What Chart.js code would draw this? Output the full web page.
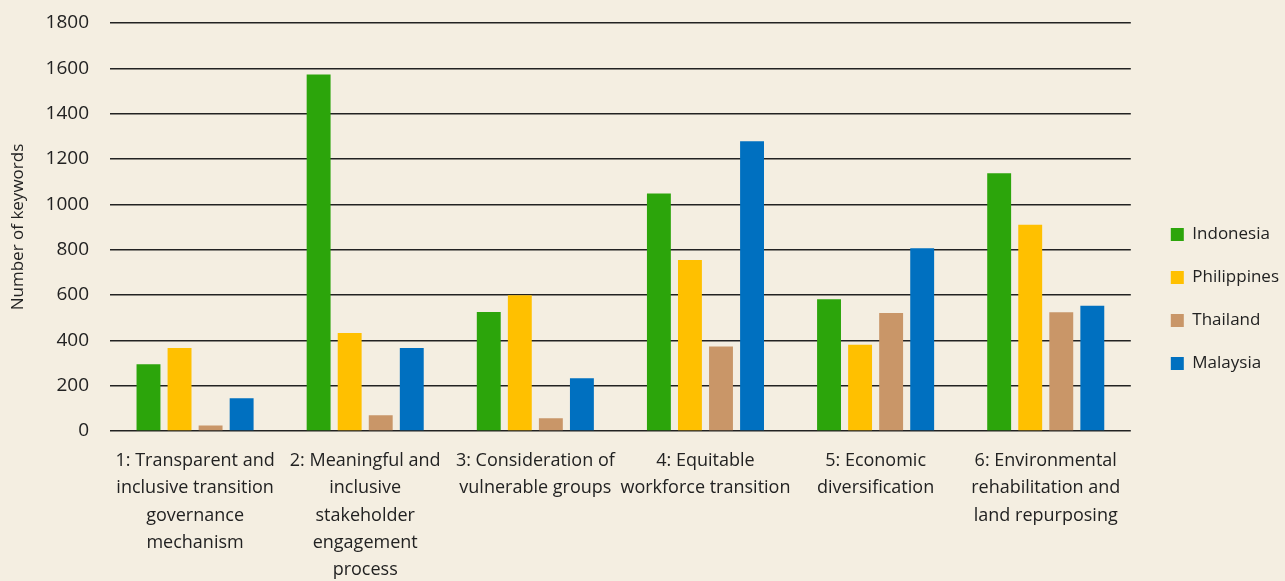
<!DOCTYPE html>
<html>
<head>
<meta charset="utf-8">
<script src="https://cdn.jsdelivr.net/npm/chart.js@4.4.0/dist/chart.umd.min.js"></script>
<style>
  html, body { margin: 0; padding: 0; }
  body { background: #f4eee1; }
  #wrap { position: relative; width: 1285px; height: 581px; }
</style>
</head>
<body>
<div id="wrap"><canvas id="keywords"></canvas></div>
<script>
// categories (principles), wrapped as in the source
var categories = [
  ['1: Transparent and', 'inclusive transition', 'governance', 'mechanism'],
  ['2: Meaningful and', 'inclusive', 'stakeholder', 'engagement', 'process'],
  ['3: Consideration of', 'vulnerable groups'],
  ['4: Equitable', 'workforce transition'],
  ['5: Economic', 'diversification'],
  ['6: Environmental', 'rehabilitation and', 'land repurposing']
];

// number of keywords per country
var indonesia = [295, 1573, 525, 1048, 581, 1137];
var philippines = [366, 432, 599, 754, 380, 910];
var thailand = [24, 70, 56, 373, 521, 524];
var malaysia = [145, 366, 233, 1278, 806, 553];

var yTicks = [0, 200, 400, 600, 800, 1000, 1200, 1400, 1600, 1800];

var fontFamily = '"Open Sans", Lato, sans-serif';

// leave a wider gap between the plot and the legend
var legendGap = {
  id: 'legendGap',
  beforeLayout: function (chart) {
    var lg = chart.legend;
    if (lg && !lg._gapWrapped) {
      var fit = lg.fit;
      lg.fit = function () {
        fit.call(this);
        this.width += 10;
      };
      lg._gapWrapped = true;
    }
  },
  afterLayout: function (chart) {
    if (chart.legend) {
      chart.legend.left += 14;
      chart.legend.top -= 6;
    }
  }
};

var ctx = document.getElementById('keywords');
var chart = new Chart(ctx, {
  type: 'bar',
  data: {
    labels: categories,
    datasets: [
      { label: 'Indonesia', data: indonesia, backgroundColor: '#2ca50b' },
      { label: 'Philippines', data: philippines, backgroundColor: '#ffc000' },
      { label: 'Thailand', data: thailand, backgroundColor: '#c99668' },
      { label: 'Malaysia', data: malaysia, backgroundColor: '#0070c0' }
    ]
  },
  plugins: [legendGap],
  options: {
    responsive: true,
    maintainAspectRatio: false,
    animation: false,
    layout: { padding: { top: 23, right: 0, bottom: 0, left: 4 } },
    datasets: {
      bar: { categoryPercentage: 0.73, barPercentage: 0.77 }
    },
    scales: {
      x: {
        grid: { display: false, drawTicks: false },
        border: { display: false },
        afterFit: function (axis) { axis.height = 150; },
        ticks: {
          color: '#222',
          font: { family: fontFamily, size: 18, lineHeight: 1.52 },
          padding: 16,
          maxRotation: 0,
          autoSkip: false
        }
      },
      y: {
        min: 0,
        max: 1800,
        afterBuildTicks: function (axis) {
          axis.ticks = yTicks.map(function (v) { return { value: v }; });
        },
        afterFit: function (axis) {
          axis.width = 106;
          axis.paddingTop = 0;
          axis.paddingBottom = 0;
        },
        grid: { color: '#222', lineWidth: 1.5, drawTicks: false },
        border: { display: false },
        ticks: {
          color: '#222',
          font: { family: fontFamily, size: 19 },
          padding: 21,
          callback: function (v) { return String(v); }
        },
        title: {
          display: true,
          text: 'Number of keywords',
          color: '#222',
          font: { family: fontFamily, size: 17 },
          padding: 4
        }
      }
    },
    plugins: {
      legend: {
        position: 'right',
        labels: {
          color: '#222',
          font: { family: fontFamily, size: 17 },
          boxWidth: 13,
          boxHeight: 13,
          padding: 26
        }
      },
      tooltip: { enabled: false }
    }
  }
});
</script>
</body>
</html>
